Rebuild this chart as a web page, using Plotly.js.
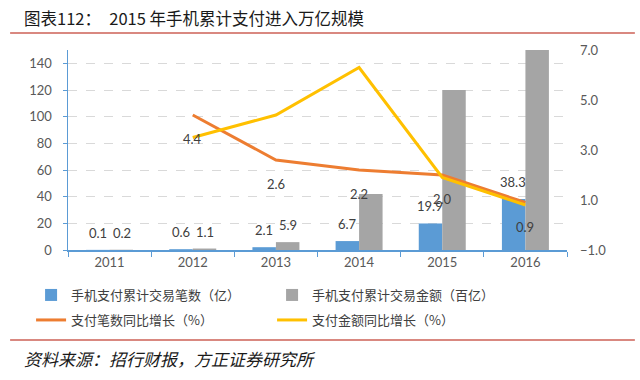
<!DOCTYPE html>
<html>
<head>
<meta charset="utf-8">
<script src="https://cdn.plot.ly/plotly-3.0.1.min.js"></script>
<style>html,body{margin:0;padding:0;background:#fff}#chart{width:640px;height:380px}</style>
</head>
<body>
<div id="chart"></div>
<script>
const years = ['2011','2012','2013','2014','2015','2016'];
const txnCount = [0.1, 0.6, 2.1, 6.7, 19.9, 38.3];          // 手机支付累计交易笔数（亿）
const txnAmount = [0.2, 1.1, 5.9, 42, 120, 150];             // 手机支付累计交易金额（百亿）
const amountLabels = ['0.2', '1.1', '5.9', '', '', ''];
const countGrowth = [null, 4.4, 2.6, 2.2, 2.0, 0.9];         // 支付笔数同比增长（%）
const amountGrowth = [null, 3.5, 4.4, 6.3, 1.9, 0.8];        // 支付金额同比增长（%）
const names = ['手机支付累计交易笔数（亿）','手机支付累计交易金额（百亿）','支付笔数同比增长（%）','支付金额同比增长（%）'];
const titleText = '图表112：\u20022015 年手机累计支付进入万亿规模';
const sourceText = '资料来源：招行财报，方正证券研究所';

const C_BLUE = '#5B9BD5', C_GRAY = '#A5A5A5', C_ORANGE = '#ED7D31', C_YELLOW = '#FFC000';
const tickFont = {family: 'Lato, "Noto Sans", sans-serif', size: 13, color: '#595959'};
const cjk = '"Noto Sans CJK SC", "Noto Sans", sans-serif';

const traces = [
  {type: 'bar', x: years, y: txnCount, name: names[0], marker: {color: C_BLUE}, yaxis: 'y', legend: 'legend', hoverinfo: 'skip'},
  {type: 'bar', x: years, y: txnAmount, name: names[1], marker: {color: C_GRAY}, yaxis: 'y', legend: 'legend', hoverinfo: 'skip'},
  {type: 'scatter', mode: 'lines', x: years, y: countGrowth, name: names[2], line: {color: C_ORANGE, width: 3}, yaxis: 'y2', legend: 'legend2'},
  {type: 'scatter', mode: 'lines', x: years, y: amountGrowth, name: names[3], line: {color: C_YELLOW, width: 3}, yaxis: 'y2', legend: 'legend2'}
];

const ann = [];
const labFont = {family: tickFont.family, size: 13, color: '#404040'};
years.forEach((yr, i) => {
  ann.push({x: i, y: txnCount[i], xref: 'x', yref: 'y', text: txnCount[i].toFixed(1), showarrow: false,
            xshift: -12, yshift: 17, font: labFont});
  if (amountLabels[i]) ann.push({x: i, y: txnAmount[i], xref: 'x', yref: 'y', text: amountLabels[i], showarrow: false,
            xshift: 12, yshift: 17, font: labFont});
  if (countGrowth[i] !== null) ann.push({x: i, y: countGrowth[i], xref: 'x', yref: 'y2', text: countGrowth[i].toFixed(1), showarrow: false,
            yshift: -24, font: labFont});
});
ann.push({xref: 'paper', yref: 'paper', x: -0.092, y: 1.16, xanchor: 'left', yanchor: 'middle', showarrow: false,
          text: titleText, font: {family: cjk, size: 16.5, color: '#1a1a1a'}});
ann.push({xref: 'paper', yref: 'paper', x: -0.092, y: -0.54, xanchor: 'left', yanchor: 'middle', showarrow: false,
          text: '<i>' + sourceText + '</i>', font: {family: cjk, size: 17, color: '#1a1a1a'}});

const layout = {
  width: 640, height: 380,
  margin: {l: 68, r: 73, t: 50, b: 130},
  paper_bgcolor: '#fff', plot_bgcolor: '#fff',
  barmode: 'group', bargap: 0.435, bargroupgap: 0,
  xaxis: {type: 'category', range: [-0.5, 5.5], autorange: false, tickfont: tickFont, showline: true, linecolor: C_BLUE, linewidth: 1.5,
          ticks: 'outside', tickson: 'boundaries', ticklen: 5, tickcolor: C_BLUE, showgrid: false, zeroline: false},
  yaxis: {range: [0, 150], autorange: false, dtick: 20, tick0: 0, tickfont: tickFont, showline: true, linecolor: C_BLUE, linewidth: 1.5,
          ticks: 'outside', ticklen: 4, tickcolor: C_BLUE, ticklabelstandoff: 8,
          showgrid: true, gridcolor: '#d9d9d9', griddash: 'dash', zeroline: false},
  yaxis2: {overlaying: 'y', side: 'right', range: [-1, 7], autorange: false, tickvals: [-1, 1, 3, 5, 7], tickformat: '.1f',
           tickfont: tickFont, showgrid: false, zeroline: false, showline: false, ticks: '', ticklabelstandoff: 12},
  legend: {orientation: 'h', x: -0.074, y: -0.225, xanchor: 'left', yanchor: 'middle', entrywidth: 196, entrywidthmode: 'pixels',
           font: {family: cjk, size: 13, color: '#404040'}, bgcolor: 'rgba(0,0,0,0)'},
  legend2: {orientation: 'h', x: -0.074, y: -0.35, xanchor: 'left', yanchor: 'middle', entrywidth: 196, entrywidthmode: 'pixels',
           font: {family: cjk, size: 13, color: '#404040'}, bgcolor: 'rgba(0,0,0,0)'},
  annotations: ann,
  shapes: [
    {type: 'line', xref: 'paper', yref: 'paper', x0: -0.116, x1: 1.136, y0: 1.085, y1: 1.085, line: {color: '#D98880', width: 2}},
    {type: 'line', xref: 'paper', yref: 'paper', x0: -0.116, x1: 1.136, y0: -0.45, y1: -0.45, line: {color: '#D98880', width: 2}}
  ],
  showlegend: true
};

Plotly.newPlot('chart', traces, layout, {staticPlot: true, displayModeBar: false});
</script>
</body>
</html>
